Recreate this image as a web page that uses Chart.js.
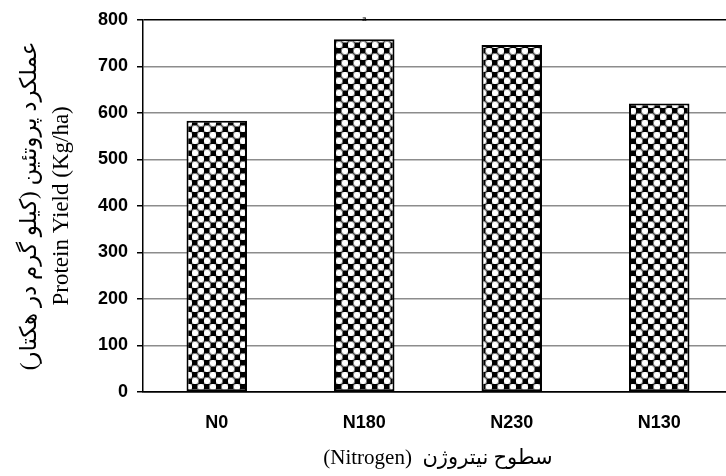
<!DOCTYPE html>
<html><head><meta charset="utf-8">
<script src="https://cdn.jsdelivr.net/npm/chart.js@4/dist/chart.umd.min.js"></script>
<style>html,body{margin:0;padding:0;overflow:hidden;background:#fff}#wrap{width:740px;height:476px;position:relative}</style>
</head><body><div id="wrap"><canvas id="c"></canvas></div>
<script>
const categories = ['N0', 'N180', 'N230', 'N130'];
const proteinYield = [583, 758, 746, 620];
const yTicks = [0, 100, 200, 300, 400, 500, 600, 700, 800];
const letters = ['', 'a', '', ''];
const yTitle = ['عملکرد پروتئین (کیلو گرم در هکتار)\u200F', 'Protein Yield (Kg/ha)'];
const xTitle = '(Nitrogen)  سطوح نیتروژن';

function makePattern() {
  const t = document.createElement('canvas');
  t.width = 12; t.height = 12;
  const g = t.getContext('2d');
  g.fillStyle = '#fff'; g.fillRect(0, 0, 12, 12);
  g.fillStyle = '#000'; g.fillRect(0, 0, 6, 6); g.fillRect(6, 6, 6, 6);
  g.strokeStyle = '#777'; g.lineWidth = 1; g.fillStyle = '#fff';
  [[9, 3], [3, 9]].forEach(([x, y]) => { g.beginPath(); g.arc(x, y, 3.7, 0, Math.PI * 2); g.fill(); g.stroke(); });
  return g.createPattern(t, 'repeat');
}

const letterPlugin = {
  id: 'letters',
  afterDatasetsDraw(chart) {
    const ctx = chart.ctx;
    const meta = chart.getDatasetMeta(0);
    ctx.save();
    ctx.font = '8px "Liberation Sans"';
    ctx.fillStyle = '#000';
    ctx.textAlign = 'center';
    ctx.textBaseline = 'middle';
    meta.data.forEach((bar, i) => { if (letters[i]) ctx.fillText(letters[i], bar.x, bar.y - 21); });
    ctx.restore();
  }
};

new Chart(document.getElementById('c'), {
  type: 'bar',
  data: {
    labels: categories,
    datasets: [{
      data: proteinYield,
      backgroundColor: makePattern(),
      borderColor: '#000',
      borderWidth: 2,
      borderSkipped: false,
      categoryPercentage: 1,
      barPercentage: 0.41
    }]
  },
  options: {
    responsive: true,
    maintainAspectRatio: false,
    animation: false,
    layout: { padding: { top: 19, right: 7, left: 0, bottom: 0 } },
    plugins: { legend: { display: false }, tooltip: { enabled: false } },
    scales: {
      x: {
        afterFit: s => { s.height = 84; },
        grid: { display: false },
        border: { display: true, color: '#000', width: 1.5 },
        ticks: { color: '#000', padding: 12, font: { family: '"Liberation Sans"', size: 18, weight: 'bold' } },
        title: { display: true, text: xTitle, color: '#000', padding: { top: 0, bottom: 5 },
          font: { family: '"Liberation Serif", "DejaVu Sans"', size: 21 } }
      },
      y: {
        min: 0, max: 800,
        afterFit: s => { s.width = 143; },
        afterBuildTicks: s => { s.ticks = yTicks.map(v => ({ value: v })); },
        grid: {
          color: c => (c.tick && (c.tick.value === 800 || c.tick.value === 0)) ? '#000' : '#8c8c8c',
          lineWidth: 1.5,
          tickColor: '#000',
          tickLength: 6
        },
        border: { display: true, color: '#000', width: 1.5 },
        ticks: { color: '#000', padding: 9, font: { family: '"Liberation Sans"', size: 18, weight: 'bold' } },
        title: { display: true, text: yTitle, color: '#000', padding: { top: 14, bottom: 0 },
          font: { family: '"Liberation Serif", "DejaVu Sans"', size: 23, lineHeight: 1.39 } }
      }
    }
  },
  plugins: [letterPlugin]
});
</script>
</body></html>
